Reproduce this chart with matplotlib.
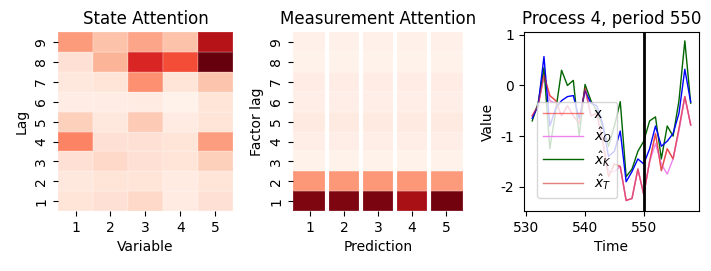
import numpy as np
import matplotlib
matplotlib.use("Agg")
import matplotlib.pyplot as plt

variables = [1, 2, 3, 4, 5]
lags = [1, 2, 3, 4, 5, 6, 7, 8, 9]

# rows are lag 1 .. lag 9
state_attn = [
    [0.10, 0.12, 0.15, 0.06, 0.12],
    [0.08, 0.10, 0.10, 0.06, 0.10],
    [0.12, 0.15, 0.12, 0.10, 0.18],
    [0.42, 0.12, 0.12, 0.10, 0.34],
    [0.18, 0.08, 0.20, 0.06, 0.10],
    [0.05, 0.05, 0.06, 0.02, 0.10],
    [0.08, 0.10, 0.38, 0.10, 0.22],
    [0.12, 0.27, 0.70, 0.58, 1.00],
    [0.35, 0.23, 0.32, 0.23, 0.82],
]
meas_attn = [
    [0.95, 0.95, 0.96, 0.86, 0.98],
    [0.36, 0.36, 0.36, 0.36, 0.35],
    [0.02, 0.02, 0.02, 0.02, 0.02],
    [0.04, 0.04, 0.04, 0.04, 0.04],
    [0.07, 0.07, 0.07, 0.07, 0.07],
    [0.04, 0.04, 0.04, 0.04, 0.04],
    [0.05, 0.05, 0.05, 0.05, 0.05],
    [0.02, 0.02, 0.02, 0.02, 0.02],
    [0.03, 0.03, 0.03, 0.03, 0.03],
]

time = list(range(531, 559))
x_true = [-0.60, -0.40, 0.20, -0.20, -0.30, -0.60, -0.40, -0.60, -0.75, -0.05,
          -0.60, -0.55, -1.10, -1.80, -1.55, -1.60, -2.27, -2.23, -1.65, -2.15,
          -1.50, -0.95, -1.68, -1.25, -1.45, -0.85, -0.22, -0.78]
x_obs = [-0.60, -0.40, 0.20, -0.30, -0.35, -0.60, -0.40, -0.60, -0.75, -0.05,
         -0.60, -0.55, -1.10, -1.70, -1.70, -1.60, -2.27, -2.23, -1.65, -2.15,
         -1.50, -1.15, -1.55, -1.75, -1.45, -0.90, -0.22, -0.78]
x_kal = [-0.70, -0.35, 0.35, -1.25, -0.50, 0.30, 0.00, 0.10, -1.00, 0.02,
         -0.30, -0.50, -0.80, -1.20, -0.80, -0.32, -1.80, -1.65, -1.30, -1.10,
         -0.70, -0.62, -1.45, -0.80, -1.00, -0.30, 0.88, -0.35]
x_blue = [-0.65, -0.40, 0.57, -0.80, -0.45, -0.30, -0.22, -0.20, -0.65, -0.10,
          -0.35, -0.40, -0.75, -1.40, -1.30, -0.90, -1.90, -1.70, -1.45, -1.55,
          -1.25, -0.80, -1.20, -1.10, -0.95, -0.55, 0.32, -0.33]
x_trans = [-0.60, -0.40, 0.20, -0.20, -0.30, -0.60, -0.40, -0.60, -0.75, -0.05,
           -0.60, -0.55, -1.10, -1.80, -1.55, -1.60, -2.27, -2.23, -1.65, -2.15,
           -1.50, -0.95, -1.68, -1.25, -1.45, -0.85, -0.22, -0.78]

fig = plt.figure(figsize=(7.11, 2.71), dpi=100)


def heat(ax, data, title, xlabel, ylabel, gaps=False):
    arr = np.array(data)
    ax.pcolormesh(np.arange(len(variables) + 1), np.arange(len(lags) + 1), arr,
                  cmap="Reds", vmin=0, vmax=1, edgecolors=(1, 1, 1, 0.12),
                  linewidth=0.3)
    if gaps:
        for v in range(1, len(variables)):
            ax.axvline(v, color="white", lw=3)
    ax.set_xticks(np.arange(len(variables)) + 0.5)
    ax.set_xticklabels(variables)
    ax.set_yticks(np.arange(len(lags)) + 0.5)
    ax.set_yticklabels(lags, rotation=90, va="center")
    for s in ax.spines.values():
        s.set_visible(False)
    ax.set_xlim(0, len(variables))
    ax.set_ylim(0, len(lags))
    ax.set_title(title)
    ax.set_xlabel(xlabel)
    ax.set_ylabel(ylabel)


ax1 = fig.add_axes([0.0816, 0.221, 0.246, 0.66])
heat(ax1, state_attn, "State Attention", "Variable", "Lag")
ax2 = fig.add_axes([0.412, 0.221, 0.239, 0.66])
heat(ax2, meas_attn, "Measurement Attention", "Prediction", "Factor lag", gaps=True)

ax3 = fig.add_axes([0.737, 0.221, 0.246, 0.66])
ax3.plot(time, x_true, color="red", alpha=0.5, lw=1, label="x")
ax3.plot(time, x_obs, color="violet", lw=1, label=r"$\hat{x}_O$")
ax3.plot(time, x_kal, color="darkgreen", lw=1, label=r"$\hat{x}_K$")
ax3.plot(time, x_blue, color="blue", lw=1)
ax3.plot(time, x_trans, color="tab:red", alpha=0.6, lw=1, label=r"$\hat{x}_T$")
ax3.axvline(550, color="black", lw=2)
ax3.set_xlim(529.6, 559.4)
ax3.set_ylim(-2.48, 1.05)
ax3.set_xticks([530, 540, 550])
ax3.set_yticks([-2, -1, 0, 1])
ax3.set_yticklabels(["-2", "-1", "0", "1"])
ax3.set_title("Process 4, period 550")
ax3.set_xlabel("Time")
ax3.set_ylabel("Value")
ax3.legend(loc="lower left", bbox_to_anchor=(0.074, 0.073), borderaxespad=0,
           handlelength=2.9, labelspacing=0.3)

fig.savefig("out.png", dpi=100)
